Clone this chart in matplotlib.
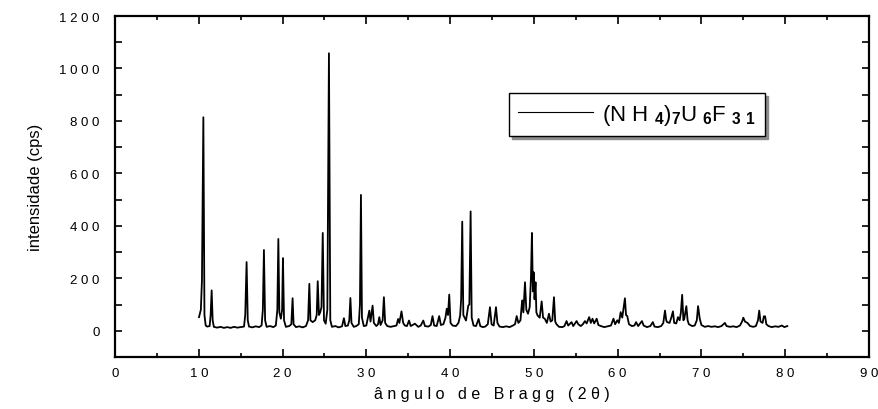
import numpy as np
import matplotlib
matplotlib.use('Agg')
import matplotlib.pyplot as plt
from matplotlib.ticker import MultipleLocator, FuncFormatter

plt.rcParams['font.family'] = ['Liberation Sans', 'DejaVu Sans']
plt.rcParams['mathtext.fontset'] = 'custom'
plt.rcParams['mathtext.rm'] = 'Liberation Sans'
plt.rcParams['mathtext.bf'] = 'Liberation Sans:bold'
plt.rcParams['mathtext.default'] = 'regular'

# difratograma: vertices da curva (2theta, cps)
two_theta = [
    10.03, 10.25, 10.38, 10.55, 10.68, 10.83, 11.0, 11.3, 11.42, 11.54, 11.66, 11.8,
    12.2, 12.6, 13.0, 13.4, 13.8, 14.2, 14.6, 15.0, 15.4, 15.55, 15.71, 15.85, 16.0,
    16.4, 16.8, 17.2, 17.5, 17.65, 17.78, 17.92, 18.1, 18.5, 18.9, 19.2, 19.38, 19.5,
    19.62, 19.8, 19.95, 20.05, 20.18, 20.4, 20.8, 21.05, 21.2, 21.32, 21.6, 22.0, 22.4,
    22.8, 23.05, 23.2, 23.33, 23.6, 23.9, 24.08, 24.2, 24.35, 24.5, 24.65, 24.8, 24.95,
    25.15, 25.35, 25.54, 25.7, 25.9, 26.3, 26.7, 27.1, 27.33, 27.5, 27.8, 27.97, 28.1,
    28.23, 28.5, 28.8, 29.1, 29.24, 29.36, 29.48, 29.7, 30.0, 30.36, 30.5, 30.75, 30.9,
    31.2, 31.4, 31.55, 31.7, 31.95, 32.1, 32.25, 32.5, 32.9, 33.3, 33.6, 33.8, 33.95,
    34.2, 34.4, 34.6, 34.85, 35.1, 35.3, 35.8, 36.2, 36.5, 36.8, 37.0, 37.4, 37.7, 37.9,
    38.1, 38.4, 38.7, 38.9, 39.2, 39.45, 39.6, 39.75, 39.9, 40.05, 40.3, 40.7, 41.0,
    41.2, 41.32, 41.45, 41.58, 41.9, 42.17, 42.3, 42.45, 42.58, 42.8, 43.1, 43.4, 43.6,
    43.9, 44.2, 44.5, 44.76, 44.95, 45.2, 45.48, 45.65, 45.9, 46.3, 46.7, 47.1, 47.5,
    47.75, 47.95, 48.15, 48.4, 48.6, 48.75, 48.94, 49.1, 49.3, 49.5, 49.65, 49.77, 49.88,
    49.97, 50.08, 50.2, 50.3, 50.45, 50.7, 50.93, 51.1, 51.3, 51.55, 51.8, 52.0, 52.2,
    52.4, 52.55, 52.7, 53.0, 53.4, 53.65, 53.9, 54.1, 54.5, 54.7, 55.1, 55.3, 55.6,
    55.85, 56.1, 56.3, 56.6, 56.8, 57.0, 57.2, 57.5, 57.7, 58.0, 58.4, 58.8, 59.2, 59.5,
    59.7, 59.96, 60.15, 60.36, 60.55, 60.87, 61.0, 61.15, 61.35, 61.7, 62.0, 62.2, 62.45,
    62.9, 63.1, 63.5, 63.9, 64.2, 64.4, 64.8, 65.2, 65.45, 65.65, 65.8, 65.9, 66.2, 66.4,
    66.6, 66.75, 67.0, 67.2, 67.4, 67.55, 67.7, 67.85, 67.95, 68.2, 68.35, 68.5, 68.9,
    69.2, 69.45, 69.6, 69.8, 70.0, 70.4, 70.8, 71.2, 71.6, 72.0, 72.4, 72.8, 73.0, 73.4,
    73.8, 74.2, 74.6, 74.85, 75.0, 75.2, 75.5, 75.8, 76.2, 76.5, 76.75, 76.9, 77.05, 77.3,
    77.45, 77.6, 77.75, 78.0, 78.4, 78.8, 79.2, 79.6, 79.9, 80.25,
]
intensity = [
    52, 80, 190, 814, 60, 20, 16, 18, 60, 154, 40, 15,
    12, 15, 11, 14, 11, 15, 12, 14, 16, 60, 262, 40, 16,
    13, 17, 14, 20, 80, 308, 40, 15, 18, 14, 20, 80, 350,
    70, 46, 80, 277, 40, 15, 18, 25, 124, 25, 14, 17, 13,
    18, 40, 179, 40, 33, 40, 60, 189, 60, 71, 90, 373, 40,
    27, 80, 1058, 40, 15, 18, 13, 17, 48, 18, 20, 40, 125,
    30, 15, 18, 25, 100, 518, 50, 18, 20, 77, 35, 96, 30,
    18, 25, 52, 22, 40, 128, 30, 18, 15, 18, 20, 45, 30,
    74, 30, 20, 18, 39, 18, 27, 15, 20, 39, 18, 16, 22, 56,
    20, 18, 56, 22, 25, 50, 84, 60, 138, 30, 20, 18, 30,
    58, 120, 416, 60, 39, 96, 100, 455, 50, 20, 18, 45, 18,
    14, 16, 25, 90, 25, 20, 90, 30, 16, 14, 17, 14, 20,
    25, 56, 30, 40, 116, 70, 185, 80, 65, 90, 200, 373, 150,
    223, 120, 185, 70, 58, 50, 112, 50, 46, 30, 65, 35, 40,
    128, 35, 25, 15, 14, 18, 37, 20, 33, 18, 37, 25, 18,
    25, 37, 28, 52, 30, 46, 28, 46, 22, 18, 14, 17, 20, 46,
    25, 40, 30, 71, 50, 124, 60, 56, 25, 18, 20, 33, 18,
    37, 20, 14, 18, 33, 16, 14, 18, 30, 77, 40, 33, 30, 50,
    74, 30, 28, 52, 40, 70, 137, 40, 45, 94, 40, 25, 18,
    20, 40, 94, 46, 22, 15, 18, 15, 17, 14, 18, 30, 18, 15,
    17, 14, 20, 35, 50, 35, 30, 18, 15, 18, 40, 77, 35, 30,
    55, 55, 25, 18, 14, 17, 15, 20, 14, 18,
]
sample_label = (r"(N H ${}_{\mathbf{4}}$)${}_{\mathbf{7}}$U ${}_{\mathbf{6}}$F"
                r" ${}_{\mathbf{3\ 1}}$")


def spaced(v, pos):
    return ' '.join(str(int(round(v))))


fig = plt.figure(figsize=(8.79, 4.10), dpi=100)
ax = fig.add_axes([0.1308, 0.1268, 0.8578, 0.8317])

ax.plot(two_theta, intensity, color='black', lw=1.3, label=sample_label)

ax.set_xlim(0, 90)
ax.set_ylim(-100, 1200)
ax.xaxis.set_major_locator(MultipleLocator(10))
ax.xaxis.set_minor_locator(MultipleLocator(5))
ax.yaxis.set_major_locator(MultipleLocator(200))
ax.yaxis.set_minor_locator(MultipleLocator(100))
ax.xaxis.set_major_formatter(FuncFormatter(spaced))
ax.yaxis.set_major_formatter(FuncFormatter(spaced))

ax.tick_params(which='both', direction='in', top=True, right=True, width=1.2,
               labelsize=9.5)
ax.tick_params(axis='x', which='major', length=6, pad=7)
ax.tick_params(axis='x', which='minor', length=3)
ax.tick_params(axis='y', which='both', length=5, pad=11)
for s in ax.spines.values():
    s.set_linewidth(1.6)

ax.set_xlabel("â n g u l o   d e   B r a g g   ( 2 θ )", fontsize=11.5, labelpad=5)
ax.set_ylabel("intensidade (cps)", fontsize=12, labelpad=12)

leg = ax.legend(loc='upper left', bbox_to_anchor=(0.5225, 0.774), borderaxespad=0,
                fontsize=16, handlelength=3.4, handletextpad=0.4, borderpad=0.4,
                fancybox=False, shadow={'color': '0.55', 'alpha': 1.0},
                edgecolor='black', framealpha=1)
leg.get_frame().set_linewidth(1.0)
leg.get_lines()[0].set_linewidth(0.8)

fig.savefig('out.png', dpi=100)
